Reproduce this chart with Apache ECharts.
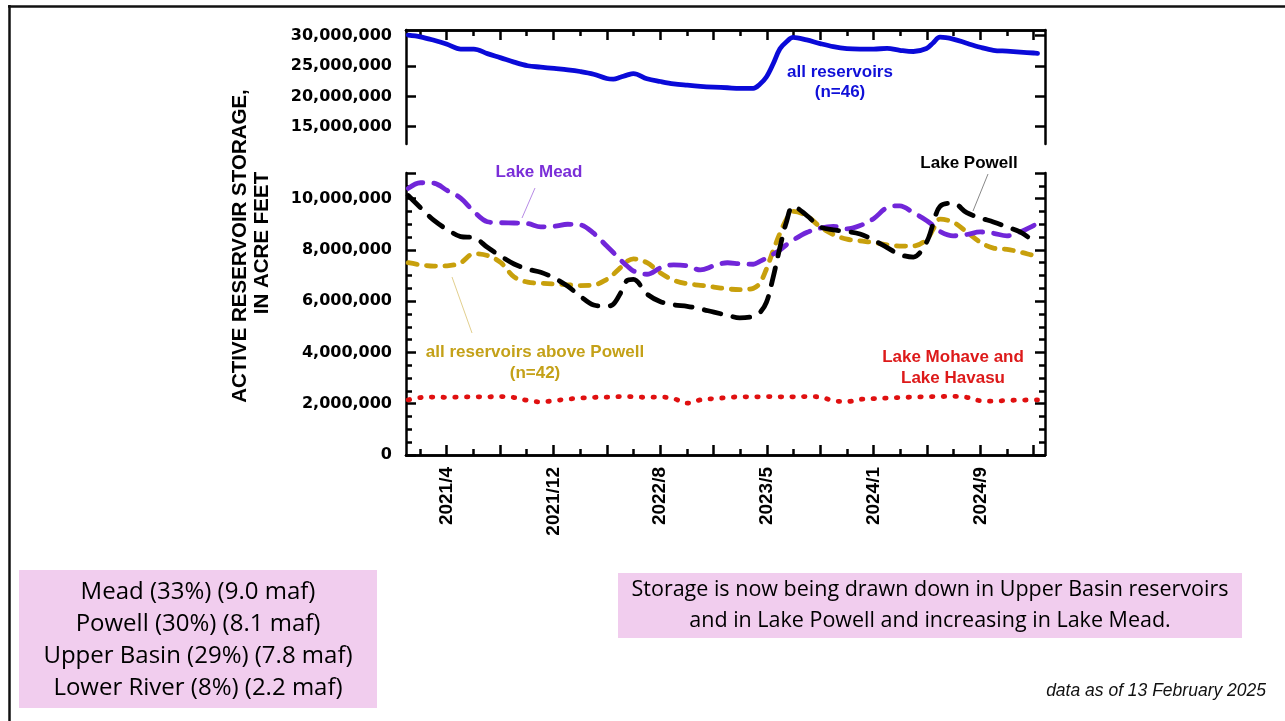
<!DOCTYPE html>
<html>
<head>
<meta charset="utf-8">
<script src="https://cdn.jsdelivr.net/npm/echarts@6/dist/echarts.min.js"></script>
<style>
  html, body { margin: 0; padding: 0; background: #fff; }
  #main { width: 1285px; height: 721px; }
</style>
</head>
<body>
<div id="main"></div>
<script>
// sample dates (storage in millions of acre-feet)
var dates = ['2021-02-01','2021-03-01','2021-04-01','2021-05-01','2021-06-01','2021-07-01','2021-08-01','2021-09-01',
  '2021-10-01','2021-11-01','2021-12-01','2022-01-01','2022-02-01','2022-03-01','2022-04-01','2022-05-01','2022-05-16',
  '2022-06-01','2022-06-16','2022-07-01','2022-08-01','2022-09-01','2022-10-01','2022-11-01','2022-12-01','2023-01-01',
  '2023-02-01','2023-03-01','2023-04-01','2023-04-16','2023-05-01','2023-05-16','2023-06-01','2023-06-16','2023-07-01',
  '2023-08-01','2023-09-01','2023-10-01','2023-11-01','2023-12-01','2024-01-01','2024-02-01','2024-03-01','2024-04-01',
  '2024-05-01','2024-05-16','2024-06-01','2024-07-01','2024-08-01','2024-09-01','2024-10-01','2024-11-01','2024-12-01',
  '2025-01-01','2025-01-10'];

var allReservoirs = [30.1,29.82,29.25,28.6,27.8,27.8,27.05,26.35,25.65,25.05,24.82,24.6,24.38,24.1,23.65,22.95,22.85,
  23.15,23.5,23.75,22.9,22.45,22.08,21.85,21.66,21.52,21.42,21.32,21.32,22.0,23.2,25.3,27.85,29.0,29.72,
  29.3,28.7,28.2,27.88,27.8,27.8,27.9,27.6,27.4,27.9,28.8,29.75,29.45,28.75,28.1,27.6,27.45,27.3,27.15,27.1];

var lakeMead = [10.4,10.62,10.6,10.32,10.02,9.5,9.1,9.06,9.05,9.03,8.9,8.92,9.0,8.98,8.65,8.15,7.9,
  7.62,7.38,7.18,7.05,7.3,7.42,7.38,7.22,7.38,7.5,7.46,7.44,7.55,7.68,7.83,8.0,8.2,8.38,
  8.68,8.85,8.92,8.82,8.95,9.22,9.65,9.72,9.45,9.15,8.95,8.72,8.55,8.6,8.7,8.65,8.55,8.7,8.95,9.05];

var lakePowell = [10.12,9.65,9.15,8.8,8.52,8.48,8.1,7.75,7.45,7.25,7.13,6.9,6.58,6.2,5.85,5.8,5.88,
  6.3,6.8,6.85,6.28,5.98,5.86,5.8,5.7,5.57,5.45,5.35,5.41,5.55,5.95,6.9,8.1,9.1,9.7,
  9.35,8.9,8.78,8.72,8.62,8.38,8.09,7.82,7.72,8.3,9.0,9.7,9.82,9.45,9.25,9.09,8.9,8.7,8.35,8.25];

var abovePowell = [7.5,7.42,7.37,7.38,7.5,7.85,7.78,7.5,6.95,6.74,6.7,6.67,6.64,6.61,6.63,6.85,7.05,
  7.3,7.55,7.65,7.5,7.1,6.82,6.68,6.62,6.55,6.48,6.45,6.5,6.7,7.25,7.95,8.65,9.2,9.5,
  9.33,8.9,8.6,8.42,8.35,8.29,8.2,8.15,8.15,8.4,8.8,9.2,9.08,8.7,8.3,8.07,8.02,7.92,7.78,7.75];

var mohaveHavasu = [2.15,2.24,2.26,2.25,2.26,2.27,2.27,2.28,2.24,2.13,2.07,2.12,2.18,2.22,2.25,2.26,2.27,
  2.28,2.28,2.27,2.25,2.26,2.2,2.02,2.15,2.2,2.24,2.27,2.27,2.27,2.28,2.28,2.27,2.27,2.27,
  2.28,2.26,2.12,2.08,2.17,2.2,2.22,2.24,2.26,2.27,2.28,2.28,2.29,2.25,2.12,2.1,2.13,2.14,2.15,2.15];

// x axis ticks
var majorTicks = ['2021-04-30','2021-08-30','2021-12-30','2022-05-01','2022-08-31','2022-12-31',
  '2023-05-02','2023-09-01','2024-01-01','2024-05-02','2024-09-01','2025-01-01'];
var minorTicks = ['2021-02-28','2021-06-30','2021-10-30','2022-03-01','2022-07-01','2022-10-31',
  '2023-03-02','2023-07-02','2023-11-01','2024-03-02','2024-07-02','2024-11-01'];
var labelTicks = ['2021-04-30','2021-12-30','2022-08-31','2023-05-02','2024-01-01','2024-09-01'];
var topYTicks = [15, 20, 25, 30];

var boxLeftLines = ['Mead (33%) (9.0 maf)', 'Powell (30%) (8.1 maf)', 'Upper Basin (29%) (7.8 maf)', 'Lower River (8%) (2.2 maf)'];
var boxRightLines = ['Storage is now being drawn down in Upper Basin reservoirs', 'and in Lake Powell and increasing in Lake Mead.'];

function ts(s) {
  var p = s.split('-');
  return Date.UTC(+p[0], +p[1] - 1, +p[2]);
}
function pairs(vals) {
  return dates.map(function (d, i) { return [ts(d), vals[i]]; });
}
function fmtDate(v) {
  var d = new Date(v);
  return d.getUTCFullYear() + '/' + (d.getUTCMonth() + 1);
}
function fmtNum(v) {
  return Math.round(v * 1e6).toLocaleString('en-US');
}

var xMin = ts('2021-01-27'), xMax = ts('2025-01-27');
var tickFont = { fontFamily: 'DejaVu Sans', fontWeight: 'bold', fontSize: 16, color: '#000' };
var axLine = { show: true, lineStyle: { color: '#000', width: 2.5 } };

function xAx(grid, pos, ticks, len, labels) {
  return {
    type: 'value', gridIndex: grid, position: pos, min: xMin, max: xMax,
    axisLine: axLine,
    axisTick: { show: true, inside: true, length: len, customValues: ticks.map(ts), lineStyle: { color: '#000', width: 2.5 } },
    axisLabel: labels ? {
      show: true, rotate: 90, margin: 12, customValues: labels.map(ts), formatter: fmtDate,
      fontFamily: 'Liberation Sans, Arial', fontWeight: 'bold', fontSize: 19, color: '#000'
    } : { show: false },
    splitLine: { show: false }
  };
}

var chart = echarts.init(document.getElementById('main'));

var graphics = [
  // slide frame
  { type: 'line', shape: { x1: 8, y1: 6.5, x2: 1285, y2: 6.5 }, style: { stroke: '#111', lineWidth: 2.5 } },
  { type: 'line', shape: { x1: 9.5, y1: 5, x2: 9.5, y2: 721 }, style: { stroke: '#111', lineWidth: 2.5 } },
  // y axis title
  { type: 'text', x: 240, y: 246, rotation: Math.PI / 2,
    style: { text: 'ACTIVE RESERVOIR STORAGE,', align: 'center', verticalAlign: 'middle',
      font: 'bold 20.5px "Liberation Sans", Arial', fill: '#000' } },
  { type: 'text', x: 262, y: 243, rotation: Math.PI / 2,
    style: { text: 'IN ACRE FEET', align: 'center', verticalAlign: 'middle',
      font: 'bold 20.5px "Liberation Sans", Arial', fill: '#000' } },
  // series annotations
  { type: 'text', x: 840, y: 72, style: { text: 'all reservoirs', align: 'center', verticalAlign: 'middle',
      font: 'bold 17px "Liberation Sans", Arial', fill: '#1010d8' } },
  { type: 'text', x: 840, y: 92, style: { text: '(n=46)', align: 'center', verticalAlign: 'middle',
      font: 'bold 17px "Liberation Sans", Arial', fill: '#1010d8' } },
  { type: 'text', x: 539, y: 172, style: { text: 'Lake Mead', align: 'center', verticalAlign: 'middle',
      font: 'bold 17px "Liberation Sans", Arial', fill: '#7a2ed8' } },
  { type: 'line', shape: { x1: 535, y1: 188, x2: 522, y2: 218 }, style: { stroke: '#b78be6', lineWidth: 1 } },
  { type: 'text', x: 969, y: 163, style: { text: 'Lake Powell', align: 'center', verticalAlign: 'middle',
      font: 'bold 17px "Liberation Sans", Arial', fill: '#000' } },
  { type: 'line', shape: { x1: 988, y1: 174, x2: 973, y2: 211 }, style: { stroke: '#888', lineWidth: 1 } },
  { type: 'text', x: 535, y: 352, style: { text: 'all reservoirs above Powell', align: 'center', verticalAlign: 'middle',
      font: 'bold 17px "Liberation Sans", Arial', fill: '#c4a118' } },
  { type: 'text', x: 535, y: 373, style: { text: '(n=42)', align: 'center', verticalAlign: 'middle',
      font: 'bold 17px "Liberation Sans", Arial', fill: '#c4a118' } },
  { type: 'line', shape: { x1: 452, y1: 277, x2: 472, y2: 333 }, style: { stroke: '#e2cf8e', lineWidth: 1 } },
  { type: 'text', x: 953, y: 357, style: { text: 'Lake Mohave and', align: 'center', verticalAlign: 'middle',
      font: 'bold 17px "Liberation Sans", Arial', fill: '#dd1a1a' } },
  { type: 'text', x: 953, y: 378, style: { text: 'Lake Havasu', align: 'center', verticalAlign: 'middle',
      font: 'bold 17px "Liberation Sans", Arial', fill: '#dd1a1a' } },
  // pink boxes
  { type: 'rect', shape: { x: 19, y: 570, width: 358, height: 138 }, style: { fill: '#f1cdee' } },
  { type: 'rect', shape: { x: 618, y: 573, width: 624, height: 65 }, style: { fill: '#f1cdee' } },
  { type: 'text', x: 1266, y: 691, style: { text: 'data as of 13 February 2025', align: 'right', verticalAlign: 'middle',
      font: 'italic 17.5px "Liberation Sans", Arial', fill: '#111' } }
];
boxLeftLines.forEach(function (t, i) {
  graphics.push({ type: 'text', x: 198, y: 592 + i * 32, style: { text: t, align: 'center', verticalAlign: 'middle',
    font: '24px "Open Sans", sans-serif', fill: '#000' } });
});
boxRightLines.forEach(function (t, i) {
  graphics.push({ type: 'text', x: 930, y: 590 + i * 31, style: { text: t, align: 'center', verticalAlign: 'middle',
    font: '21.5px "Open Sans", sans-serif', fill: '#000' } });
});

function lineSeries(name, vals, color, dash, width, z) {
  return {
    name: name, type: 'line', xAxisIndex: 2, yAxisIndex: 2, data: pairs(vals),
    smooth: 0.35, showSymbol: false, z: z,
    lineStyle: { color: color, width: width, type: dash, cap: 'round', join: 'round' }
  };
}

var option = {
  animation: false,
  backgroundColor: '#fff',
  grid: [
    { left: 406, top: 30, width: 639, height: 114 },
    { left: 406, top: 173, width: 639, height: 282 }
  ],
  xAxis: [
    xAx(0, 'top', majorTicks, 10, null),
    xAx(0, 'top', minorTicks, 6, null),
    xAx(1, 'bottom', majorTicks, 10, labelTicks),
    xAx(1, 'bottom', minorTicks, 6, null)
  ],
  yAxis: [
    { type: 'value', gridIndex: 0, position: 'left', min: 12.15, max: 30.94,
      axisLine: axLine, splitLine: { show: false },
      axisTick: { show: true, inside: true, length: 10, customValues: topYTicks, lineStyle: { color: '#000', width: 2.5 } },
      axisLabel: Object.assign({ margin: 14, customValues: topYTicks, formatter: fmtNum }, tickFont) },
    { type: 'value', gridIndex: 0, position: 'right', min: 12.15, max: 30.94,
      axisLine: axLine, splitLine: { show: false },
      axisTick: { show: true, inside: true, length: 10, customValues: topYTicks, lineStyle: { color: '#000', width: 2.5 } },
      axisLabel: { show: false } },
    { type: 'value', gridIndex: 1, position: 'left', min: 0, max: 11, interval: 2,
      axisLine: axLine, splitLine: { show: false },
      axisTick: { show: true, inside: true, length: 10, lineStyle: { color: '#000', width: 2.5 } },
      minorTick: { show: true, splitNumber: 4, length: 6, lineStyle: { color: '#000', width: 2.5 } },
      axisLabel: Object.assign({ margin: 14, showMaxLabel: false, formatter: fmtNum }, tickFont) },
    { type: 'value', gridIndex: 1, position: 'right', min: 0, max: 11, interval: 2,
      axisLine: axLine, splitLine: { show: false },
      axisTick: { show: true, inside: true, length: 10, lineStyle: { color: '#000', width: 2.5 } },
      minorTick: { show: true, splitNumber: 4, length: 6, lineStyle: { color: '#000', width: 2.5 } },
      axisLabel: { show: false } }
  ],
  series: [
    { name: 'all reservoirs', type: 'line', xAxisIndex: 0, yAxisIndex: 0, data: pairs(allReservoirs),
      smooth: 0.35, showSymbol: false,
      lineStyle: { color: '#0a0ad8', width: 4.8, cap: 'round', join: 'round' } },
    lineSeries('all reservoirs above Powell', abovePowell, '#c8a00c', [9, 9.5], 4.8, 2),
    lineSeries('Lake Mead', lakeMead, '#7126d9', [16, 11], 4.8, 3),
    lineSeries('Lake Powell', lakePowell, '#000', [17, 12.5], 4.8, 4),
    lineSeries('Lake Mohave and Lake Havasu', mohaveHavasu, '#e01010', [1.5, 10.2], 4.8, 5)
  ],
  graphic: graphics
};
chart.setOption(option);
</script>
</body>
</html>
